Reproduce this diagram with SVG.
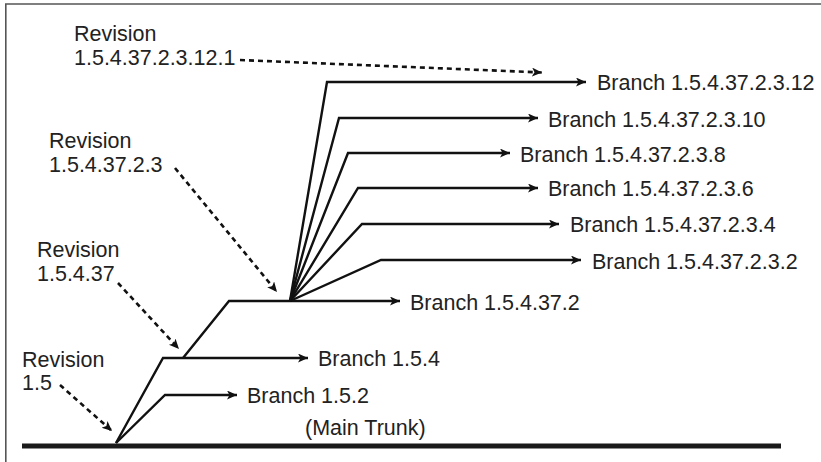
<svg xmlns="http://www.w3.org/2000/svg" width="821" height="462" viewBox="0 0 821 462">
  <defs>
    <style>
      text { font-family: "Liberation Sans", Arial, Helvetica, sans-serif; font-size: 21.5px; fill: #222; }
      .ln { fill: none; stroke: #111; stroke-width: 2.4; stroke-linejoin: miter; }
      .sol { marker-end: url(#ah); }
      .dsh { stroke-dasharray: 5 4; stroke-width: 2.6; marker-end: url(#ah); }
    </style>
    <marker id="ah" markerUnits="userSpaceOnUse" markerWidth="11" markerHeight="10" refX="10" refY="4.5" orient="auto" viewBox="0 0 11 10">
      <path d="M0,0 L10,4.5 L0,9 L2.5,4.5 z" fill="#111"/>
    </marker>
  </defs>
  <rect x="0" y="0" width="821" height="462" fill="#fff"/>
  <path d="M5.8,462 L5.8,4 L821,4" fill="none" stroke="#555" stroke-width="1.6"/>

  <g id="trunk">
    <line x1="22" y1="446" x2="781" y2="446" stroke="#1a1a1a" stroke-width="5"/>
    <text x="305" y="435">(Main Trunk)</text>
  </g>

  <g id="connectors">
    <path class="ln sol" d="M116,443 L165,395 L237,395"/>
    <path class="ln sol" d="M116,443 L163,358 L308,358"/>
    <path class="ln sol" d="M183,358 L229,301 L400,301"/>
    <path class="ln sol" d="M290,301 L381,260 L581,260"/>
    <path class="ln sol" d="M290,301 L362,224 L559,224"/>
    <path class="ln sol" d="M290,301 L358,188 L538,188"/>
    <path class="ln sol" d="M290,301 L348,153 L510,153"/>
    <path class="ln sol" d="M290,301 L339,118 L538,118"/>
    <path class="ln sol" d="M290,301 L327,82 L586,82"/>
    <path class="ln dsh" d="M240,60 L542,72.5"/>
    <path class="ln dsh" d="M175,168 L277,292"/>
    <path class="ln dsh" d="M118,283 L179,349"/>
    <path class="ln dsh" d="M60,385 L112,431"/>
  </g>

  <g id="rev-1.5.4.37.2.3.12.1">
    <text x="74" y="41">Revision</text>
    <text x="74" y="64.5">1.5.4.37.2.3.12.1</text>
  </g>
  <g id="rev-1.5.4.37.2.3">
    <text x="49" y="148">Revision</text>
    <text x="49" y="171.5">1.5.4.37.2.3</text>
  </g>
  <g id="rev-1.5.4.37">
    <text x="37" y="257">Revision</text>
    <text x="37" y="280.5">1.5.4.37</text>
  </g>
  <g id="rev-1.5">
    <text x="22" y="366.5">Revision</text>
    <text x="22" y="389.5">1.5</text>
  </g>

  <g id="branch-1.5.4.37.2.3.12"><text x="597" y="90">Branch 1.5.4.37.2.3.12</text></g>
  <g id="branch-1.5.4.37.2.3.10"><text x="548" y="126.5">Branch 1.5.4.37.2.3.10</text></g>
  <g id="branch-1.5.4.37.2.3.8"><text x="520" y="161.5">Branch 1.5.4.37.2.3.8</text></g>
  <g id="branch-1.5.4.37.2.3.6"><text x="548" y="195.5">Branch 1.5.4.37.2.3.6</text></g>
  <g id="branch-1.5.4.37.2.3.4"><text x="570" y="231.5">Branch 1.5.4.37.2.3.4</text></g>
  <g id="branch-1.5.4.37.2.3.2"><text x="592" y="268.5">Branch 1.5.4.37.2.3.2</text></g>
  <g id="branch-1.5.4.37.2"><text x="410" y="309.5">Branch 1.5.4.37.2</text></g>
  <g id="branch-1.5.4"><text x="318" y="365.5">Branch 1.5.4</text></g>
  <g id="branch-1.5.2"><text x="247" y="402.5">Branch 1.5.2</text></g>
</svg>
